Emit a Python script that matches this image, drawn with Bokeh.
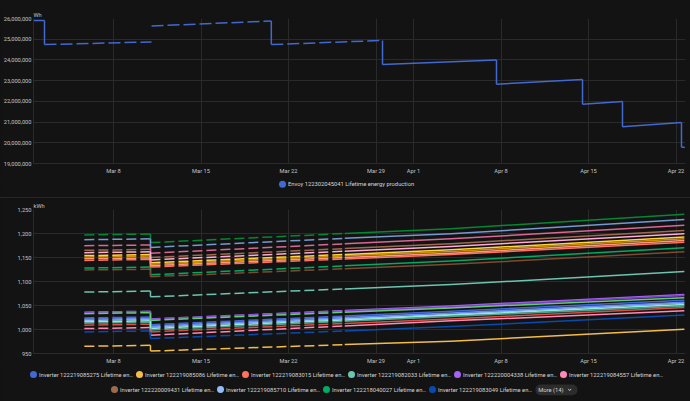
import numpy as np
import pandas as pd
from bokeh.core.properties import value
from bokeh.embed import file_html
from bokeh.layouts import column
from bokeh.models import (BoxAnnotation, ColumnDataSource, Div, FixedTicker,
                          NumeralTickFormatter, Range1d)
from bokeh.plotting import figure
from bokeh.resources import INLINE

# ---------------------------------------------------------------- data
ORIGIN = pd.Timestamp("2024-03-01 00:00")

x_window = ["2024-03-01 14:24", "2024-04-22 18:14"]
tick_dates = ["2024-03-08", "2024-03-15", "2024-03-22", "2024-03-29",
              "2024-04-01", "2024-04-08", "2024-04-15", "2024-04-22"]
tick_labels = ["Mar 8", "Mar 15", "Mar 22", "Mar 29", "Apr 1", "Apr 8", "Apr 15", "Apr 22"]

# Envoy lifetime production (Wh); NaN marks a break in the recorded series
envoy_name = "Envoy 122302045041 Lifetime energy production"
envoy_unit = "Wh"
envoy_color = "#4269d0"
envoy_times = ["2024-03-01 14:24", "2024-03-02 11:30", "2024-03-02 11:30", "2024-03-11 01:00",
               "2024-03-11 01:00", "2024-03-11 01:00", "2024-03-20 15:00", "2024-03-20 15:00",
               "2024-03-29 12:30", "2024-03-29 12:30", "2024-04-07 15:20", "2024-04-07 15:20",
               "2024-04-14 12:30", "2024-04-14 12:30", "2024-04-17 17:15", "2024-04-17 17:15",
               "2024-04-22 10:30", "2024-04-22 10:30", "2024-04-22 17:00"]
envoy_values = [25_900_000, 25_900_000, 24_740_000, 24_870_000,
                np.nan, 25_640_000, 25_880_000, 24_740_000,
                24_940_000, 23_780_000, 24_000_000, 22_830_000,
                23_050_000, 21_860_000, 21_990_000, 20_780_000,
                20_980_000, 19_780_000, 19_780_000]
envoy_sparse_period = ["2024-03-02 11:30", "2024-03-29 12:30"]   # hourly data with holes
envoy_ticks = [19_000_000, 20_000_000, 21_000_000, 22_000_000, 23_000_000,
               24_000_000, 25_000_000, 26_000_000]

# Inverter lifetime energy (kWh)
inverter_unit = "kWh"
inverter_times = ["2024-03-05 16:00", "2024-03-10 23:00", "2024-03-10 23:00",
                  "2024-03-26 12:00", "2024-04-04 00:00", "2024-04-22 16:00"]
inverter_sparse_period = ["2024-03-05 16:00", "2024-03-26 12:00"]
inverter_serials = ["122219085275", "122219085086", "122219083015", "122219082033",
                    "122220004338", "122219084557", "122220009431", "122219085710",
                    "122218040027", "122219083049"]
inverter_colors = ["#4269d0", "#f4bd4a", "#ff725c", "#6cc5b0", "#a463f2", "#ff8ab7",
                   "#9c6b4e", "#97bbf5", "#01ab63", "#094bad", "#c99000", "#d84f3e",
                   "#49a28f", "#048732", "#d96895", "#8043ce", "#7599d1", "#7a4c31",
                   "#6989f4", "#ffd444", "#ff957c", "#8fe9d3", "#62cc71", "#ffadda"]
inverter_values = [
    [1024, 1026, 1010, 1028, 1038, 1061],
    [965, 967, 955, 968.5, 975.7, 1000.7],
    [1144, 1146, 1130, 1147, 1156, 1182],
    [1078, 1080, 1068, 1084.6, 1093.6, 1120.8],
    [1036, 1038, 1022, 1039.5, 1049, 1073],
    [1002, 1004, 988, 1007.5, 1018, 1039],
    [1165, 1167, 1150, 1168.6, 1178.7, 1206.4],
    [1019, 1021, 1005, 1022.5, 1032, 1055],
    [1128, 1130, 1114, 1132.6, 1142.6, 1170.4],
    [995, 997, 981, 997, 1006, 1030],
    [1151, 1153, 1136, 1153.4, 1162.7, 1189],
    [1009, 1011, 995, 1012.5, 1022, 1046],
    [1013, 1015, 999, 1017, 1027, 1049],
    [1197, 1199, 1181, 1200, 1210, 1240],
    [1174.6, 1176, 1159, 1178.5, 1189, 1217],
    [1035, 1037, 1021, 1038, 1047, 1071],
    [1187, 1189, 1171, 1190, 1199.5, 1229],
    [1124, 1125.5, 1110, 1126.7, 1135.7, 1162],
    [1021.5, 1023, 1007, 1025, 1034.6, 1057],
    [1154, 1156, 1139, 1156.5, 1166, 1192.5],
    [1147.5, 1149, 1133, 1150, 1159, 1185.6],
    [1016, 1018, 1002, 1020, 1030, 1052],
    [1033, 1035, 1019, 1036, 1045, 1066],
    [1160, 1162, 1145, 1163, 1173, 1199.5],
]
inverter_ticks = [950, 1000, 1050, 1100, 1150, 1200, 1250]
hidden_count_label = "More (14)"

# ---------------------------------------------------------------- style
BG = "#131313"
GRID = "#2a2a2a"
TICK = "#c4c4c4"
LEGEND_TEXT = "#d4d4d4"
FONT = "Roboto"
AXIS_FS = "5.7px"
LEGEND_FS = "5.8px"
W = 690
BORDER_L, BORDER_R = 33, 5
LEGEND_STEP = 106          # horizontal pitch of legend entries
DOT_TO_TEXT = 5.5


def to_days(ts):
    return [(pd.Timestamp(t) - ORIGIN) / pd.Timedelta(days=1) for t in ts]


def split_runs(times, values, sparse):
    """Split a series into dashed pieces (sparse hourly data) and solid pieces."""
    xs = to_days(times)
    s0, s1 = to_days(sparse)
    dashed, solid = [], []
    for i in range(len(xs) - 1):
        a, b = values[i], values[i + 1]
        if np.isnan(a) or np.isnan(b):
            continue
        seg = (xs[i], a, xs[i + 1], b)
        if xs[i] != xs[i + 1] and s0 <= xs[i] and xs[i + 1] <= s1:
            dashed.append(seg)
        else:
            solid.append(seg)
    return dashed, solid


def seg_source(segs, colors):
    return ColumnDataSource(dict(
        x0=[s[0] for s in segs], y0=[s[1] for s in segs],
        x1=[s[2] for s in segs], y1=[s[3] for s in segs], color=colors))


x0, x1 = to_days(x_window)
tick_x = [int(round(d)) for d in to_days(tick_dates)]


def make_chart(height, top, bottom, yr, yticks, unit):
    p = figure(width=W, height=height, x_range=Range1d(x0, x1), y_range=Range1d(*yr),
               output_backend="svg", toolbar_location=None, tools="",
               min_border_left=BORDER_L, min_border_right=BORDER_R, min_border_top=top,
               min_border_bottom=bottom, background_fill_color=BG, border_fill_color=BG,
               outline_line_color=None)
    p.xaxis.ticker = FixedTicker(ticks=tick_x)
    p.xaxis.major_label_overrides = {t: lbl for t, lbl in zip(tick_x, tick_labels)}
    p.yaxis.ticker = FixedTicker(ticks=yticks)
    p.yaxis.formatter = NumeralTickFormatter(format="0,0")
    for ax in p.axis:
        ax.major_tick_line_color = None
        ax.minor_tick_line_color = None
        ax.major_tick_out = 0
        ax.major_tick_in = 0
        ax.minor_tick_out = 0
        ax.minor_tick_in = 0
        ax.axis_line_color = GRID
        ax.major_label_text_font = FONT
        ax.major_label_text_font_size = AXIS_FS
        ax.major_label_text_color = TICK
    p.xaxis.major_label_standoff = 4
    p.yaxis.major_label_standoff = 2
    p.grid.grid_line_color = GRID
    p.grid.grid_line_width = 1
    # unit shown above the value axis
    p.title.text = unit
    p.title.align = "left"
    p.title.offset = 0
    p.title.standoff = 2
    p.title.text_font = FONT
    p.title.text_font_size = AXIS_FS
    p.title.text_font_style = "normal"
    p.title.text_color = TICK
    return p


def strip(height):
    # legend band under a chart, in page pixels (x from the left edge, y from the band bottom)
    s = figure(width=W, height=height, x_range=Range1d(0, W), y_range=Range1d(0, height),
               output_backend="svg", toolbar_location=None, tools="",
               x_axis_location=None, y_axis_location=None, min_border=0,
               background_fill_color=BG, border_fill_color=BG, outline_line_color=None)
    s.grid.visible = False
    return s


def legend_row(s, labels, colors, x_first, y):
    n = len(labels)
    xs = [x_first + i * LEGEND_STEP for i in range(n)]
    s.scatter(xs, [y] * n, marker="circle", size=7, fill_color=colors, line_color=None)
    s.text([x + DOT_TO_TEXT for x in xs], [y] * n, text=labels,
           text_font=value(FONT), text_font_size=value(LEGEND_FS),
           text_color=LEGEND_TEXT, text_baseline="middle", text_align="left")


# ---------------------------------------------------------------- envoy chart
top = make_chart(176, 18, 13, (19_000_000, 26_000_000), envoy_ticks, envoy_unit)
dsh, sol = split_runs(envoy_times, envoy_values, envoy_sparse_period)
top.segment("x0", "y0", "x1", "y1", source=seg_source(sol, [envoy_color] * len(sol)),
            line_color="color", line_width=1.5)
top.segment("x0", "y0", "x1", "y1", source=seg_source(dsh, [envoy_color] * len(dsh)),
            line_color="color", line_width=1.5, line_dash="12 4")

top_leg = strip(21)
legend_row(top_leg, [envoy_name], [envoy_color], 282, 13.3)

separator = Div(width=W, height=1, margin=0, styles={"background-color": "#262626"})

# ---------------------------------------------------------------- inverter chart
bot = make_chart(168, 11, 13, (950, 1250), inverter_ticks, inverter_unit)
all_dash, all_sol, c_dash, c_sol = [], [], [], []
for vals, col in zip(inverter_values, inverter_colors):
    dsh, sol = split_runs(inverter_times, vals, inverter_sparse_period)
    all_dash += dsh
    c_dash += [col] * len(dsh)
    all_sol += sol
    c_sol += [col] * len(sol)
bot.segment("x0", "y0", "x1", "y1", source=seg_source(all_dash, c_dash),
            line_color="color", line_width=1.5, line_dash="10 4")
bot.segment("x0", "y0", "x1", "y1", source=seg_source(all_sol, c_sol),
            line_color="color", line_width=1.5)

bot_leg = strip(35)
inv_labels = [f"Inverter {s} Lifetime en\u2026" for s in inverter_serials]
legend_row(bot_leg, inv_labels[:6], inverter_colors[:6], 33, 27)
legend_row(bot_leg, inv_labels[6:], inverter_colors[6:10], 114, 12)
# "more" pill for the series not listed
bot_leg.add_layout(BoxAnnotation(left=535, right=577, bottom=6.3, top=17, fill_color="#2c2c2c",
                                 fill_alpha=1, line_color=None, border_radius=5,
                                 level="underlay"))
bot_leg.text([537.7], [11.7], text=[hidden_count_label], text_font=value(FONT),
             text_font_size=value(LEGEND_FS), text_color=LEGEND_TEXT,
             text_baseline="middle", text_align="left")
bot_leg.line([567.7, 569.2, 570.7], [12.6, 11.0, 12.6], line_color=LEGEND_TEXT, line_width=0.9)

layout = column(top, column(top_leg, spacing=0), separator, bot, column(bot_leg, spacing=0),
                spacing=0, styles={"background-color": BG})
open("out.html", "w").write(file_html(layout, INLINE))
